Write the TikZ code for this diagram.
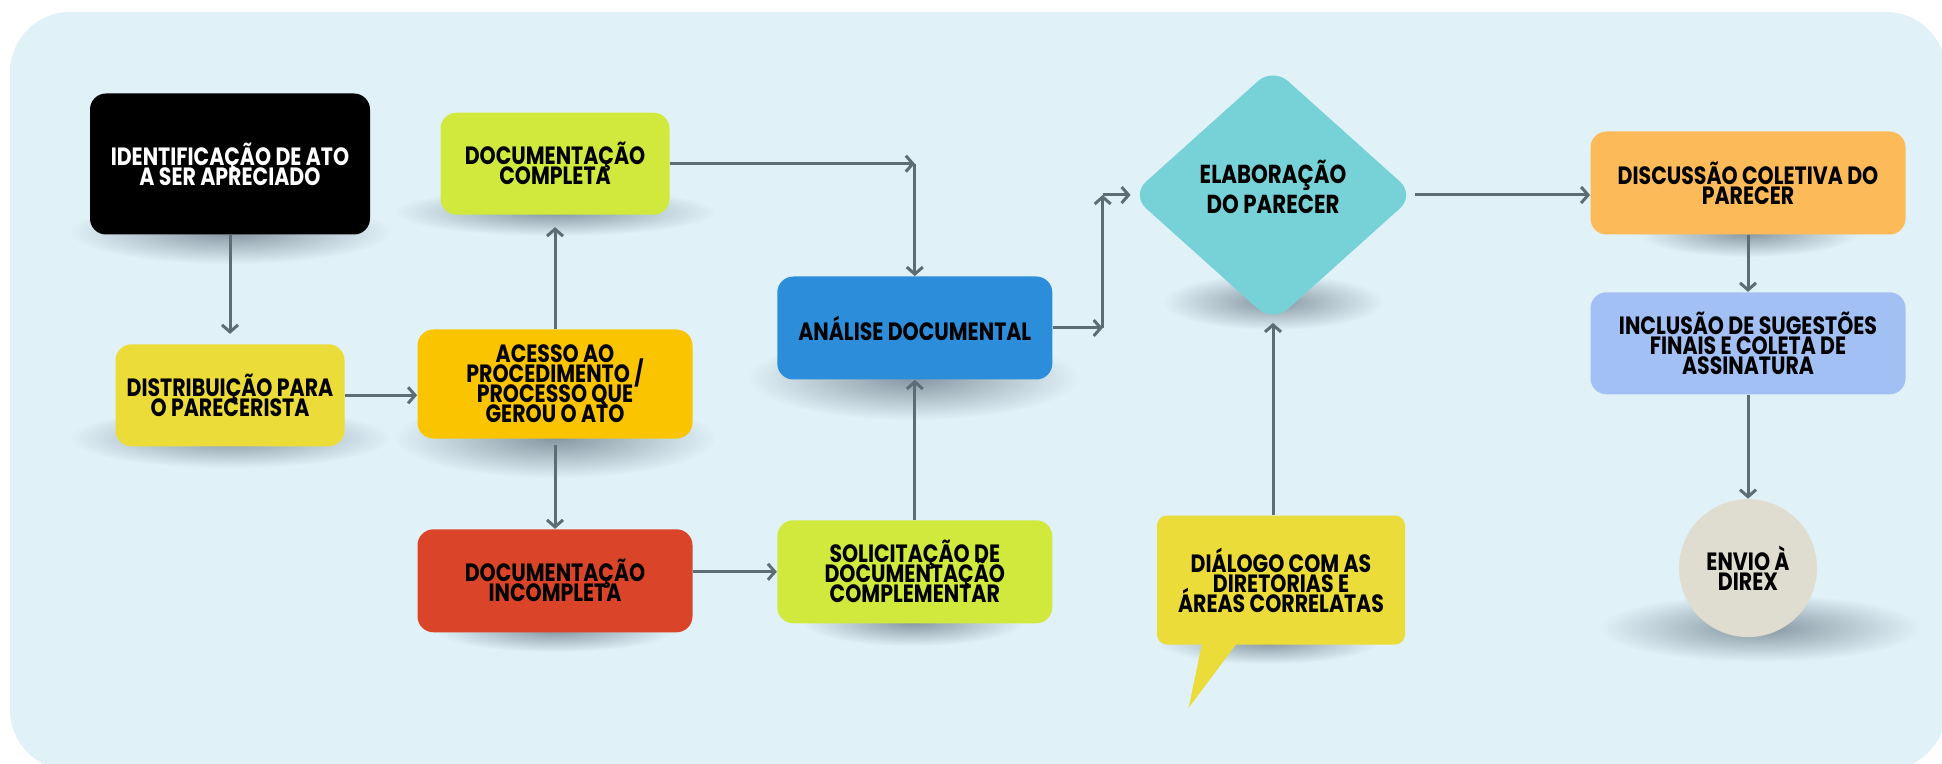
\documentclass[tikz,border=0pt]{standalone}
\usepackage{fontspec}
\setmainfont{Poppins}[FakeStretch=0.82]
\usepackage{tikz}
\usetikzlibrary{arrows.meta,positioning,calc,shapes.geometric,fadings}

\definecolor{bgblue}{HTML}{E0F1F8}
\definecolor{shadowgray}{HTML}{8797A2}
\definecolor{arrowgray}{HTML}{5D6D75}
\definecolor{lemon}{HTML}{ECDC3A}
\definecolor{amber}{HTML}{FBC400}
\definecolor{lime}{HTML}{D0E93C}
\definecolor{tomato}{HTML}{DA4429}
\definecolor{skyblue}{HTML}{2C8EDA}
\definecolor{aqua}{HTML}{76D2D6}
\definecolor{peach}{HTML}{FDBA58}
\definecolor{periwinkle}{HTML}{A3C0F4}
\definecolor{sand}{HTML}{DFDDD0}

\tikzfading[name=softblob,inner color=transparent!0,outer color=transparent!100]
\newcommand{\softshadow}[4]{\fill[shadowgray,path fading=softblob] (#1,#2) ellipse [x radius=#3,y radius=#4];}
\newcommand{\boxfont}{\bfseries\fontsize{12.5}{10}\selectfont\lineskiplimit=-20pt\relax}
\newcommand{\elabfont}{\bfseries\fontsize{13}{15}\selectfont\lineskiplimit=-20pt\relax}

\tikzset{
  box/.style={rounded corners=8pt,inner sep=2pt,align=center,font=\boxfont},
  arr/.style={draw=arrowgray,line width=1.5pt,-{Straight Barb[length=3.5pt,width=8pt]}},
}

\begin{document}
\begin{tikzpicture}[x=0.5pt,y=-0.5pt]
    \useasboundingbox (0,0) rectangle (1942,764);
    \begin{scope}
      \clip (0,0) rectangle (1942,764);
      \fill[bgblue,rounded corners=30pt] (10,12) rectangle (1946,770);
    \end{scope}
    % shadows
    \softshadow{230}{232}{160}{32}
    \softshadow{230}{438}{160}{30}
    \softshadow{555}{438}{160}{40}
    \softshadow{555}{212}{160}{24}
    \softshadow{555}{630}{120}{22}
    \softshadow{913}{378}{165}{42}
    \softshadow{913}{622}{110}{24}
    \softshadow{1273}{302}{110}{28}
    \softshadow{1268}{642}{110}{22}
    \softshadow{1748}{233}{110}{24}
    \softshadow{1760}{628}{160}{34}
    % left part
    \node[box,fill=black,text=white,minimum width=140pt,minimum height=70.5pt] (ident) at (230,164) {IDENTIFICAÇÃO DE ATO\\A SER APRECIADO};
    \node[box,fill=lemon,minimum width=114.5pt,minimum height=51pt,below=54.5pt of ident] (distrib) {DISTRIBUIÇÃO PARA\\O PARECERISTA};
    \node[box,fill=amber,minimum width=137.5pt,minimum height=54.5pt] (acesso) at (555,384) {ACESSO AO\\PROCEDIMENTO /\\PROCESSO QUE\\GEROU O ATO};
    \node[box,fill=lime,minimum width=114.5pt,minimum height=51pt,above=57pt of acesso] (doccompl) {DOCUMENTAÇÃO\\COMPLETA};
    \node[box,fill=tomato,minimum width=137.5pt,minimum height=51.5pt,below=45pt of acesso] (docincompl) {DOCUMENTAÇÃO\\INCOMPLETA};
    % middle part
    \node[box,fill=lime,minimum width=137.5pt,minimum height=51.5pt,right=42pt of docincompl,yshift=4.5pt] (solic) {SOLICITAÇÃO DE\\DOCUMENTAÇÃO\\COMPLEMENTAR};
    \node[box,fill=skyblue,minimum width=137.5pt,minimum height=51.5pt,above=70pt of solic] (analise) {ANÁLISE DOCUMENTAL};
    \node[diamond,fill=aqua,rounded corners=10pt,inner sep=0pt,minimum width=142pt,minimum height=127.5pt] (elab) at (1273,195) {};
    \node[align=center,font=\elabfont] (elabtext) at (1273,187) {ELABORAÇÃO\\DO PARECER};
    \node[box,fill=lemon,rounded corners=5pt,minimum width=124pt,minimum height=64.5pt] (dialogo) at (1281,580) {DIÁLOGO COM AS\\DIRETORIAS E\\ÁREAS CORRELATAS};
    \fill[lemon] ($(dialogo.south west)+(46,-4)$) -- ($(dialogo.south west)+(82,-4)$) -- ($(dialogo.south west)+(32,63)$) -- cycle;
    % right part
    \node[box,fill=peach,minimum width=157.5pt,minimum height=51.5pt] (discussao) at (1748,183) {DISCUSSÃO COLETIVA DO\\PARECER};
    \node[box,fill=periwinkle,minimum width=157.5pt,minimum height=51pt,below=28.5pt of discussao] (inclusao) {INCLUSÃO DE SUGESTÕES\\FINAIS E COLETA DE\\ASSINATURA};
    \node[box,circle,fill=sand,minimum size=69pt,inner sep=0pt,below=52pt of inclusao] (envio) {ENVIO À\\DIREX};
    % connectors
    \draw[arr,shorten >=5pt] (ident) -- (distrib);
    \draw[arr] (distrib.east) -- (distrib.east -| acesso.west);
    \draw[arr,shorten >=6pt] (acesso) -- (doccompl);
    \draw[arr,shorten <=3pt] (acesso) -- (docincompl);
    \coordinate (c1) at (analise.north |- doccompl.east);
    \draw[arr] (doccompl.east) -- (c1);
    \draw[arr] (c1) -- (analise);
    \draw[arr] (docincompl.east |- solic.west) -- (solic.west);
    \draw[arr] (solic) -- (analise);
    \coordinate[right=25pt of analise.east] (c2);
    \coordinate (c3) at (c2 |- elab.west);
    \draw[arr] (analise.east) -- (c2);
    \draw[arr] (c2) -- (c3);
    \draw[arr] (c3) -- (elab.west);
    \draw[arr] (elab.south |- dialogo.north) -- (elab.south);
    \draw[arr] (elab.east) -- (elab.east -| discussao.west);
    \draw[arr] (discussao) -- (inclusao);
    \draw[arr] (inclusao) -- (envio);
\end{tikzpicture}
\end{document}
